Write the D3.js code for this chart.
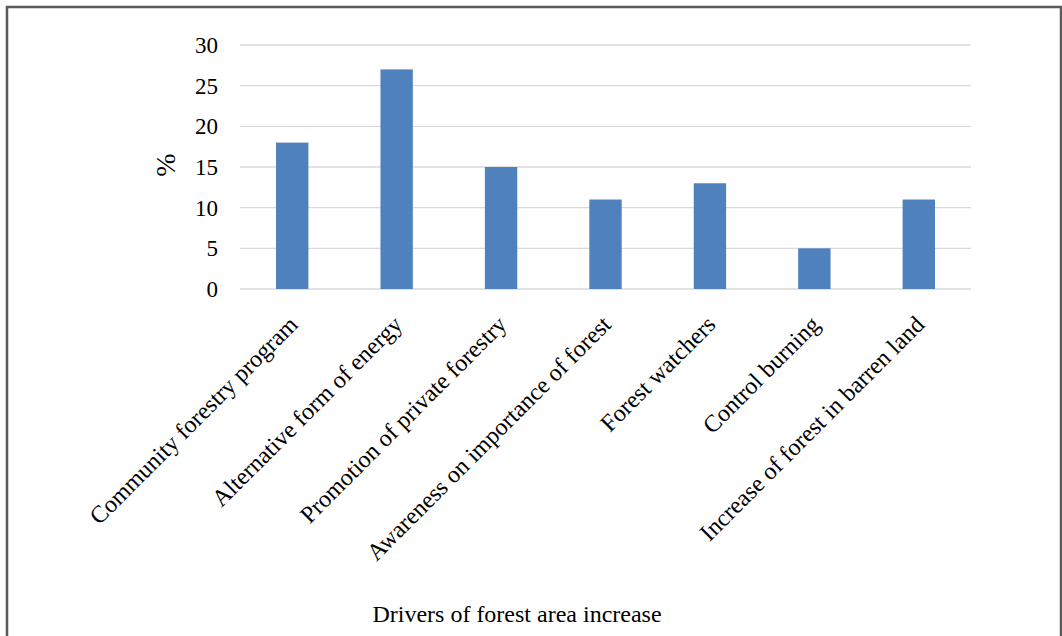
<!DOCTYPE html>
<html>
<head>
<meta charset="utf-8">
<script src="https://cdn.jsdelivr.net/npm/d3@7"></script>
<style>
  body { margin: 0; background: #fff; }
  svg { display: block; }
  text { font-family: "Liberation Serif", "Times New Roman", serif; fill: #000; }
</style>
</head>
<body>
<svg id="chart" width="1062" height="636"></svg>
<script>

// Data
var categories = [
  "Community forestry program",
  "Alternative form of energy",
  "Promotion of private forestry",
  "Awareness on importance of forest",
  "Forest watchers",
  "Control burning",
  "Increase of forest in barren land"
];
var values = [18, 27, 15, 11, 13, 5, 11];
var yTicks = [0, 5, 10, 15, 20, 25, 30];

var svg = d3.select("#chart");

var plot = {left: 240, right: 971, top: 45, bottom: 289};

// outer frame
svg.append("rect")
    .attr("x", 7)
    .attr("y", 7)
    .attr("width", 1054)
    .attr("height", 640)
    .attr("fill", "none")
    .attr("stroke", "#5a5a5a")
    .attr("stroke-width", 2.5);

var x = d3.scaleBand()
    .domain(categories)
    .range([plot.left, plot.right])
    .paddingInner(0.69)
    .paddingOuter(0.345);

var y = d3.scaleLinear()
    .domain([0, 30])
    .range([plot.bottom, plot.top]);

// gridlines
svg.append("g").selectAll("line")
    .data(yTicks)
  .enter().append("line")
    .attr("x1", plot.left)
    .attr("x2", plot.right)
    .attr("y1", function(d) { return y(d); })
    .attr("y2", function(d) { return y(d); })
    .attr("stroke", "#d9d9d9")
    .attr("stroke-width", 1.3);

// y axis labels
var yAxis = d3.axisLeft(y).tickValues(yTicks).tickSize(0).tickPadding(22);
var gy = svg.append("g")
    .attr("transform", "translate(" + plot.left + ",0)")
    .call(yAxis);
gy.select(".domain").remove();
gy.selectAll("text")
    .style("font-family", "'Liberation Serif', 'Times New Roman', serif")
    .style("font-size", "23px")
    .attr("fill", "#000");

// bars
svg.append("g").selectAll("rect")
    .data(values)
  .enter().append("rect")
    .attr("x", function(d, i) { return x(categories[i]); })
    .attr("width", x.bandwidth())
    .attr("y", function(d) { return y(d); })
    .attr("height", function(d) { return y(0) - y(d); })
    .attr("fill", "#4f81bd");

// x axis labels, rotated
var xAxis = d3.axisBottom(x).tickSize(0).tickPadding(0);
var gx = svg.append("g")
    .attr("transform", "translate(0," + plot.bottom + ")")
    .call(xAxis);
gx.select(".domain").remove();
gx.selectAll("text")
    .style("font-family", "'Liberation Serif', 'Times New Roman', serif")
    .style("font-size", "24px")
    .attr("fill", "#000")
    .attr("text-anchor", "end")
    .attr("dy", null)
    .attr("y", 0)
    .attr("transform", "translate(7,37) rotate(-45)");

// y title
svg.append("text")
    .attr("transform", "translate(175,165) rotate(-90)")
    .attr("text-anchor", "middle")
    .style("font-size", "28px")
    .text("%");

// x title
svg.append("text")
    .attr("x", 517)
    .attr("y", 622)
    .attr("text-anchor", "middle")
    .style("font-size", "24px")
    .text("Drivers of forest area increase");

</script>
</body>
</html>
